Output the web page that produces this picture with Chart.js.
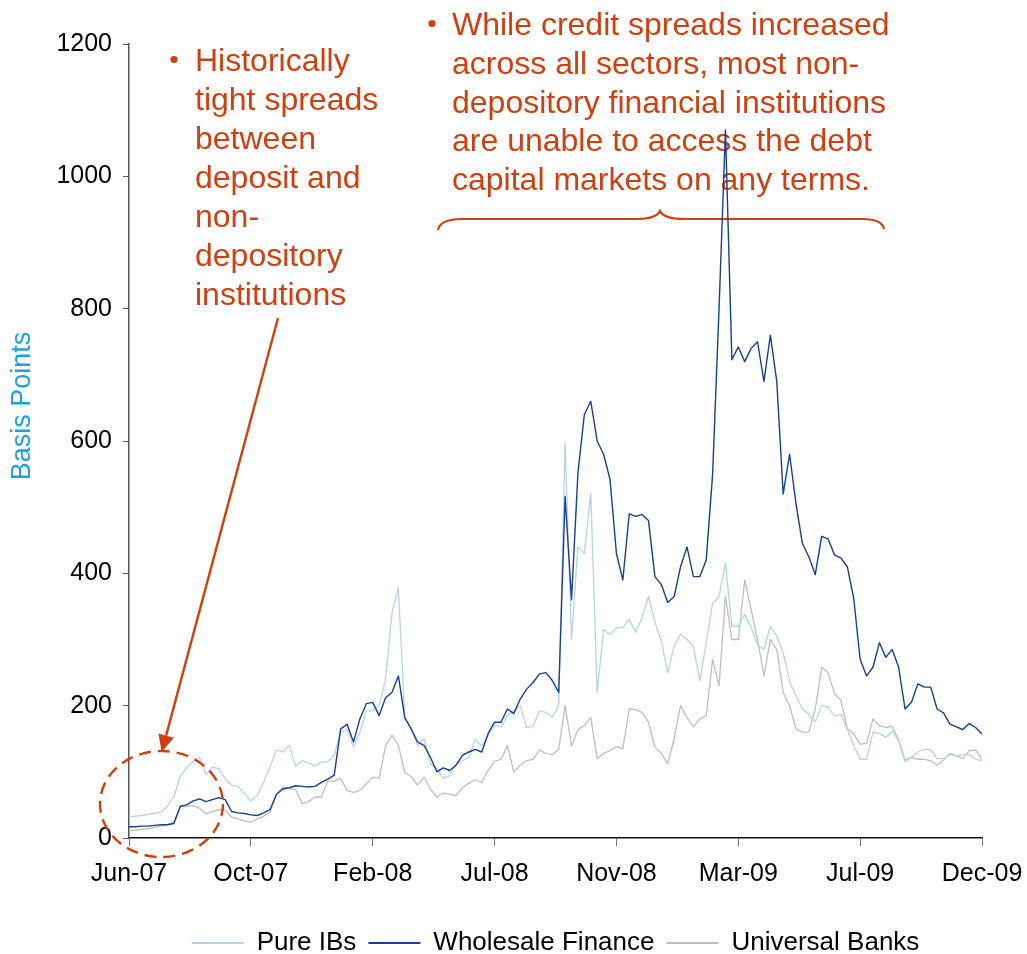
<!DOCTYPE html>
<html>
<head>
<meta charset="utf-8">
<title>Basis Points</title>
<script src="https://cdn.jsdelivr.net/npm/chart.js@4.4.1/dist/chart.umd.min.js"></script>
<style>
  html, body { margin: 0; padding: 0; background: #fff; }
</style>
</head>
<body>
<canvas id="spreadChart" width="1027" height="954"></canvas>
<script>
// weekly spreads in basis points, Jun-07 .. Dec-09
var tickLabels = ["Jun-07", "Oct-07", "Feb-08", "Jul-08", "Nov-08", "Mar-09", "Jul-09", "Dec-09"];
var weeksPerTick = 19;

var pureIBs = [
  32, 33, 34, 36, 37, 39, 48, 62, 94, 106,
  116, 122, 96, 107, 105, 90, 80, 78, 67, 56,
  64, 85, 108, 133, 130, 140, 108, 117, 113, 109,
  115, 115, 125, 160, 164, 137, 160, 192, 192, 200,
  240, 340, 378, 182, 165, 140, 150, 112, 105, 90,
  94, 112, 117, 122, 149, 139, 155, 170, 168, 185,
  193, 200, 167, 169, 192, 190, 183, 200, 597, 300,
  440, 430, 520, 220, 315, 308, 318, 318, 330, 311,
  333, 365, 326, 298, 250, 290, 308, 300, 290, 238,
  295, 355, 365, 415, 320, 320, 338, 318, 292, 285,
  320, 305, 280, 237, 215, 195, 187, 175, 200, 198,
  184, 187, 164, 140, 119, 119, 160, 158, 152, 162,
  147, 115, 122, 130, 134, 133, 120, 120, 126, 124,
  126, 126, 119, 117
];

var wholesaleFinance = [
  17, 17, 18, 18, 19, 20, 20, 22, 48, 50,
  56, 59, 55, 58, 61, 58, 40, 38, 37, 35,
  34, 38, 43, 66, 74, 76, 79, 78, 77, 78,
  84, 89, 95, 165, 172, 145, 180, 203, 205, 185,
  212, 220, 245, 182, 165, 145, 140, 122, 100, 106,
  102, 110, 125, 130, 134, 130, 158, 175, 175, 195,
  188, 210, 225, 235, 248, 250, 238, 220, 516, 360,
  552, 640, 660, 600, 580, 542, 430, 390, 490, 486,
  489, 480, 395, 383, 356, 365, 410, 440, 395, 395,
  420, 550, 800, 1070, 723, 742, 720, 740, 750, 690,
  760, 690, 520, 580, 505, 445, 425, 398, 456, 452,
  428, 423, 410, 362, 270, 245, 258, 295, 273, 285,
  258, 195, 205, 233, 228, 228, 195, 189, 172, 168,
  164, 173, 167, 157
];

var universalBanks = [
  11, 12, 13, 14, 16, 18, 20, 24, 47, 48,
  49, 45, 37, 40, 43, 42, 32, 29, 26, 24,
  29, 33, 39, 66, 77, 75, 73, 52, 55, 62,
  62, 86, 86, 90, 72, 69, 72, 82, 92, 90,
  139, 155, 140, 99, 93, 80, 92, 74, 62, 68,
  66, 64, 76, 83, 88, 84, 102, 116, 119, 140,
  100, 110, 117, 119, 133, 128, 126, 134, 200, 139,
  164, 170, 182, 120, 128, 132, 138, 135, 195, 194,
  190, 175, 137, 128, 112, 150, 200, 182, 168, 180,
  185, 270, 230, 365, 300, 300, 390, 345, 300, 245,
  300, 285, 220, 200, 165, 160, 160, 195, 258, 250,
  218, 208, 165, 157, 142, 143, 180, 170, 167, 169,
  148, 118, 122, 119, 119, 117, 110, 118, 128, 124,
  120, 132, 133, 119
];

var leftNote = ["Historically", "tight spreads", "between", "deposit and", "non-", "depository", "institutions"];
var rightNote = [
  "While credit spreads increased",
  "across all sectors, most non-",
  "depository financial institutions",
  "are unable to access the debt",
  "capital markets on any terms."
];

var noteColor = "#cf3f10";
var fontFamily = '"Liberation Sans", Arial, Helvetica, sans-serif';

Chart.defaults.font.family = fontFamily;

function toPoints(arr) {
  return arr.map(function (v, i) { return { x: i, y: v }; });
}

// callout text, brace, arrow and dashed circle
var notesPlugin = {
  id: "notes",
  beforeDatasetsDraw: function (chart) {
    var ctx = chart.ctx;
    ctx.save();
    ctx.fillStyle = noteColor;
    ctx.strokeStyle = noteColor;
    ctx.font = "32px " + fontFamily;
    ctx.textAlign = "left";
    ctx.textBaseline = "alphabetic";

    ctx.beginPath();
    ctx.arc(174, 59.5, 3.6, 0, Math.PI * 2);
    ctx.fill();
    for (var i = 0; i < leftNote.length; i++) {
      ctx.fillText(leftNote[i], 195, 71 + i * 39);
    }

    ctx.beginPath();
    ctx.arc(432, 23.5, 3.6, 0, Math.PI * 2);
    ctx.fill();
    for (var j = 0; j < rightNote.length; j++) {
      ctx.fillText(rightNote[j], 452, 35 + j * 38.8);
    }

    // curly brace under the right note
    ctx.lineWidth = 2.2;
    ctx.beginPath();
    ctx.moveTo(438, 230);
    ctx.quadraticCurveTo(440, 219, 462, 219);
    ctx.lineTo(636, 219);
    ctx.quadraticCurveTo(656, 219, 660, 211);
    ctx.quadraticCurveTo(664, 219, 684, 219);
    ctx.lineTo(862, 219);
    ctx.quadraticCurveTo(882, 219, 884, 229);
    ctx.stroke();

    // y axis title
    ctx.translate(22.5, 406);
    ctx.rotate(-Math.PI / 2);
    ctx.textAlign = "center";
    ctx.textBaseline = "middle";
    ctx.fillStyle = "#1ea0e0";
    ctx.font = "27px " + fontFamily;
    ctx.fillText("Basis Points", 0, 0);
    ctx.restore();
  },
  afterDraw: function (chart) {
    var ctx = chart.ctx;
    ctx.save();
    ctx.strokeStyle = noteColor;
    ctx.fillStyle = noteColor;
    ctx.lineWidth = 2.4;

    // arrow pointing at the start of the series
    var x0 = 278, y0 = 318, tx = 161.7, ty = 752;
    var dx = tx - x0, dy = ty - y0, len = Math.sqrt(dx * dx + dy * dy);
    var ux = dx / len, uy = dy / len;
    var headLen = 17, headHalf = 8;
    var bx = tx - ux * headLen, by = ty - uy * headLen;
    ctx.beginPath();
    ctx.moveTo(x0, y0);
    ctx.lineTo(bx, by);
    ctx.stroke();
    ctx.beginPath();
    ctx.moveTo(tx, ty);
    ctx.lineTo(bx - uy * headHalf, by + ux * headHalf);
    ctx.lineTo(bx + uy * headHalf, by - ux * headHalf);
    ctx.closePath();
    ctx.fill();

    ctx.setLineDash([12, 7]);
    ctx.beginPath();
    ctx.ellipse(161.5, 804, 61.5, 53, 0, 0, Math.PI * 2);
    ctx.stroke();
    ctx.restore();
  }
};

new Chart(document.getElementById("spreadChart"), {
  type: "line",
  data: {
    datasets: [
      {
        label: "Pure IBs",
        data: toPoints(pureIBs),
        borderColor: "#b7d2ec",
        backgroundColor: "#b7d2ec",
        borderWidth: 1.3,
        order: 1
      },
      {
        label: "Wholesale Finance",
        data: toPoints(wholesaleFinance),
        borderColor: "#173f93",
        backgroundColor: "#173f93",
        borderWidth: 1.4,
        order: 0
      },
      {
        label: "Universal Banks",
        data: toPoints(universalBanks),
        borderColor: "#bebebe",
        backgroundColor: "#bebebe",
        borderWidth: 1.3,
        order: 2
      }
    ]
  },
  options: {
    responsive: false,
    animation: false,
    devicePixelRatio: 1,
    layout: { padding: { left: 0, right: 45, top: 44, bottom: 0 } },
    elements: {
      point: { radius: 0 },
      line: { tension: 0, borderJoinStyle: "round", fill: false }
    },
    scales: {
      x: {
        type: "linear",
        min: 0,
        max: (tickLabels.length - 1) * weeksPerTick,
        afterFit: function (scale) {
          scale.height = 80;
          scale.paddingLeft = 0;
          scale.paddingRight = 0;
        },
        ticks: {
          stepSize: weeksPerTick,
          autoSkip: false,
          maxRotation: 0,
          padding: 13,
          color: "#000",
          font: { size: 25 },
          callback: function (v) { return tickLabels[Math.round(v / weeksPerTick)]; }
        },
        grid: { drawOnChartArea: false, tickLength: 8, color: "#777" },
        border: { color: "#111", width: 1.5 }
      },
      y: {
        min: 0,
        max: 1200,
        afterFit: function (scale) { scale.width = 129; },
        ticks: {
          stepSize: 200,
          padding: 11,
          color: "#000",
          font: { size: 25 },
          callback: function (v) { return String(v); }
        },
        grid: { drawOnChartArea: false, tickLength: 6, color: "#555" },
        border: { color: "#555", width: 1.5 }
      }
    },
    plugins: {
      legend: {
        position: "bottom",
        fullSize: false,
        maxHeight: 36,
        labels: {
          boxWidth: 52,
          boxHeight: 2,
          padding: 12,
          color: "#000",
          font: { size: 26 },
          sort: function (a, b) { return a.datasetIndex - b.datasetIndex; },
          generateLabels: function (chart) {
            var items = Chart.defaults.plugins.legend.labels.generateLabels(chart);
            items.forEach(function (it) {
              it.fillStyle = it.strokeStyle;
              it.lineWidth = 0;
            });
            return items;
          }
        }
      },
      tooltip: { enabled: false }
    }
  },
  plugins: [notesPlugin]
});
</script>
</body>
</html>
